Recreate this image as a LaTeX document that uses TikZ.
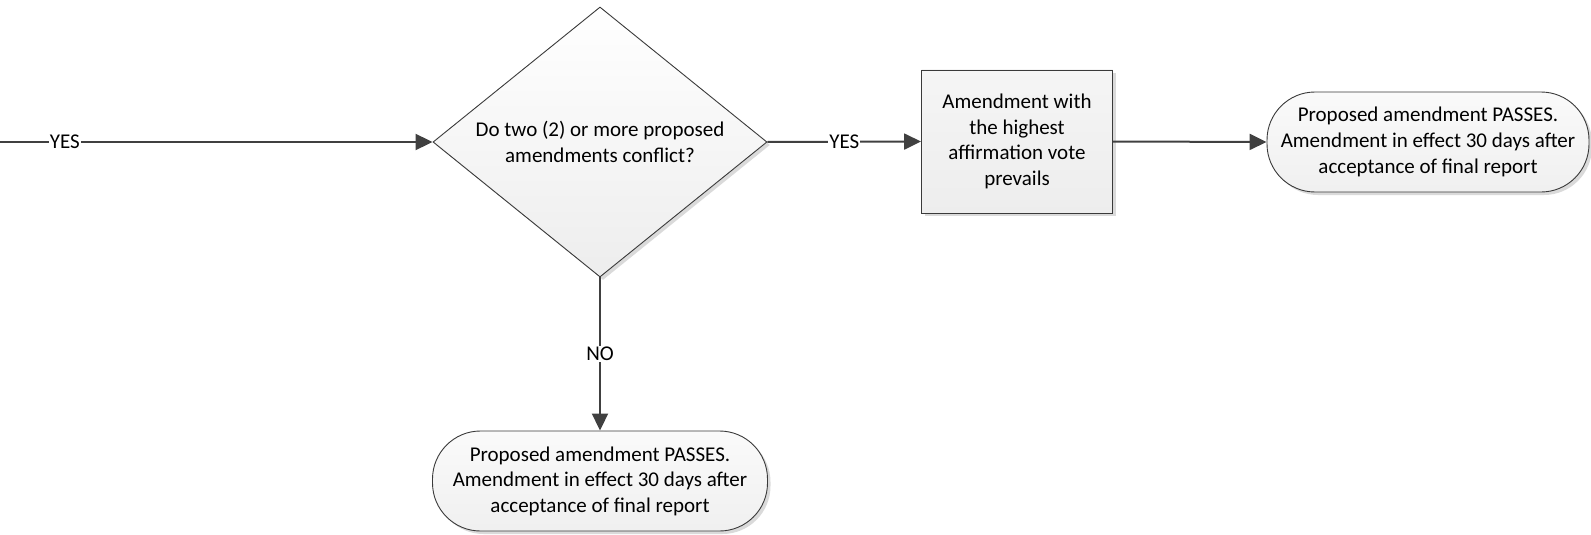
\documentclass[tikz,border=0pt]{standalone}
\usepackage{fontspec}
\setmainfont{Carlito}
\usetikzlibrary{shapes.geometric,arrows.meta,shadows}
\definecolor{lineclr}{HTML}{404040}
\definecolor{edgeclr}{HTML}{3A3A3A}
\tikzset{
  base/.style={draw=edgeclr, line width=0.9pt, align=center, inner sep=0pt,
    font=\fontsize{21}{25.6}\selectfont,
    drop shadow={shadow xshift=3pt, shadow yshift=-3pt, fill=black!18, opacity=0.8}},
  decision/.style={base, diamond, aspect=1.237, minimum width=334pt, minimum height=270pt,
    top color=white, bottom color=black!7},
  process/.style={base, rectangle, minimum width=191pt, minimum height=143pt,
    top color=black!4, bottom color=black!7},
  terminal/.style={base, rectangle, rounded corners=48pt, minimum width=332pt, minimum height=100pt,
    top color=black!2, bottom color=black!6},
  flow/.style={draw=lineclr, line width=2pt, -{Triangle[length=17pt,width=16pt]}},
  lbl/.style={fill=white, inner sep=1pt, font=\fontsize{21}{25.6}\selectfont, text=black}
}
\begin{document}
\begin{tikzpicture}[x=1pt,y=-1pt]
  \useasboundingbox (0,0) rectangle (1591,535);

  \coordinate (start) at (0,142);
  \node[decision] (conflict) at (600,142) {Do two (2) or more proposed\\amendments conflict?};
  \node[process] (highest) at (1017,141.5) {Amendment with\\the highest\\affirmation vote\\prevails};
  \node[terminal, minimum width=322pt] (passright) at (1428,142)
    {Proposed amendment PASSES.\\Amendment in effect 30 days after\\acceptance of final report};
  \node[terminal, minimum width=335pt] (passdown) at (600,481)
    {Proposed amendment PASSES.\\Amendment in effect 30 days after\\acceptance of final report};

  \draw[flow] (start) -- node[lbl, pos=0.15] {YES} (conflict.west);
  \draw[flow] (conflict.east) -- node[lbl] {YES} (highest.west);
  \draw[flow] (highest.east) -- (passright.west);
  \draw[flow] (conflict.south) -- node[lbl] {NO} (passdown.north);
\end{tikzpicture}
\end{document}
